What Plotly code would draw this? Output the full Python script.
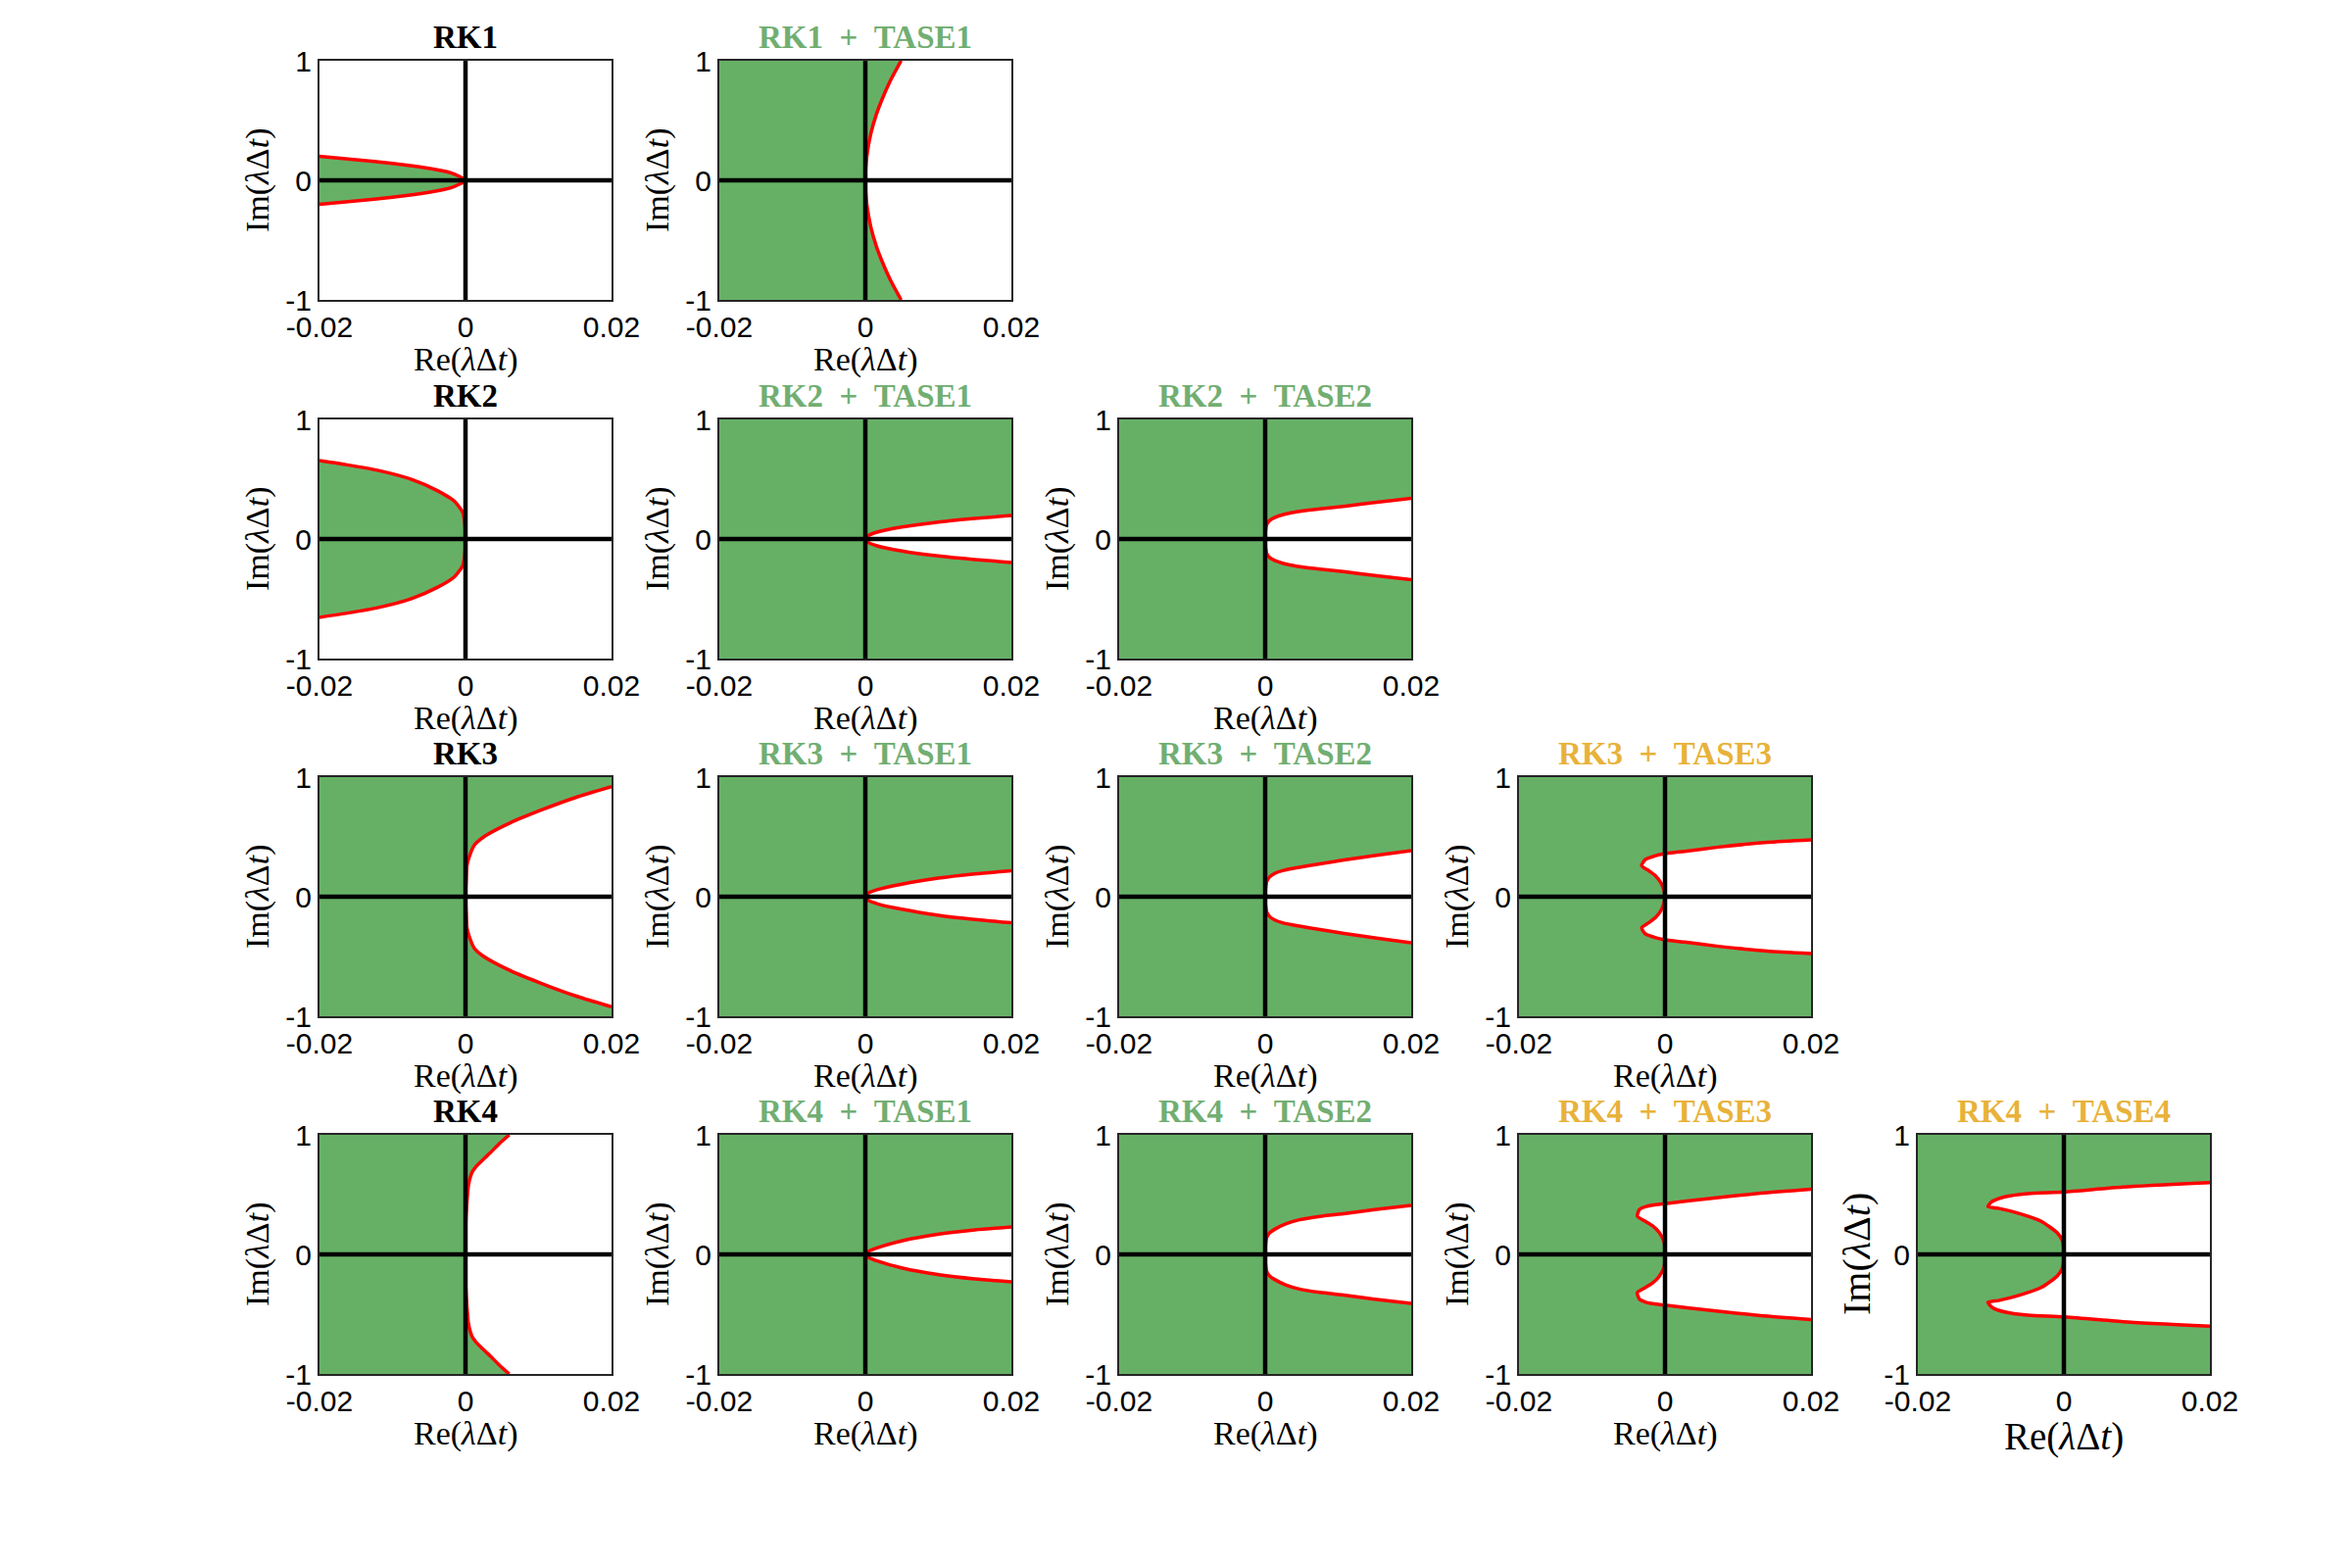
import plotly.graph_objects as go

# ─── Colours & fonts ──────────────────────────────────────────────────────────

GREEN = "#66B066"
RED = "#FF0000"
BLACK = "#000000"
FRAME = "#262626"
TITLE_GREEN = "#72AE72"
TITLE_GOLD = "#E8B23A"
SERIF = "Liberation Serif"
SANS = "Liberation Sans"

# ─── Axes ─────────────────────────────────────────────────────────────────────

X_MIN, X_MAX = -0.02, 0.02
Y_MIN, Y_MAX = -1, 1
X_TICKS = [-0.02, 0, 0.02]
X_TICKTEXT = ["-0.02", "0", "0.02"]
Y_TICKS = [-1, 0, 1]
Y_TICKTEXT = ["-1", "0", "1"]

# ─── Stability boundaries: upper branch, from the origin outwards ─────────────

RK1_RE = [0, -0.002, -0.005, -0.01, -0.015, -0.02]
RK1_IM = [0, 0.063, 0.10, 0.141, 0.173, 0.20]

RK1_T1_RE = [0, 0.00005, 0.0002, 0.00075, 0.0015, 0.0022, 0.0034, 0.0049]
RK1_T1_IM = [0, 0.1, 0.2, 0.39, 0.55, 0.664, 0.83, 1.0]

RK2_RE = [0, -0.0001, -0.0004, -0.0015, -0.0038, -0.0074, -0.0119, -0.0164, -0.02]
RK2_IM = [0, 0.13, 0.225, 0.315, 0.403, 0.499, 0.573, 0.622, 0.655]

RK2_T1_RE = [0, 0.0004, 0.0015, 0.005, 0.01, 0.015, 0.02]
RK2_T1_IM = [0, 0.028, 0.055, 0.10, 0.142, 0.172, 0.196]

RK2_T2_RE = [0, 0.00005, 0.0002, 0.0006, 0.0013, 0.0025, 0.0045, 0.0078, 0.011,
             0.015, 0.02]
RK2_T2_IM = [0, 0.07, 0.12, 0.155, 0.18, 0.205, 0.23, 0.255, 0.275,
             0.305, 0.34]

RK3_RE = [0, 0.0001, 0.0002, 0.0005, 0.0012, 0.0025, 0.0062, 0.0106, 0.0151, 0.02]
RK3_IM = [0, 0.15, 0.26, 0.33, 0.43, 0.50, 0.62, 0.73, 0.83, 0.92]

RK3_T1_RE = [0, 0.0004, 0.0017, 0.005, 0.01, 0.015, 0.02]
RK3_T1_IM = [0, 0.03, 0.06, 0.105, 0.155, 0.19, 0.218]

RK3_T2_RE = [0, 0.00005, 0.0002, 0.0006, 0.0013, 0.0025, 0.0045, 0.0075, 0.0108,
             0.015, 0.02]
RK3_T2_IM = [0, 0.07, 0.125, 0.165, 0.195, 0.22, 0.244, 0.275, 0.307,
             0.345, 0.385]

RK3_T3_RE = [0, -0.0002, -0.0006, -0.0013, -0.0022, -0.0032, -0.0027, -0.0015,
             -0.0002, 0.0027, 0.0073, 0.014, 0.02]
RK3_T3_IM = [0, 0.066, 0.12, 0.175, 0.216, 0.26, 0.311, 0.339,
             0.358, 0.38, 0.415, 0.454, 0.475]

RK4_RE = [0, 0, 0.0001, 0.0002, 0.0004, 0.0009, 0.0014, 0.002, 0.0027, 0.0034,
          0.0047, 0.006]
RK4_IM = [0, 0.2, 0.35, 0.44, 0.577, 0.686, 0.73, 0.768, 0.81, 0.85,
          0.93, 1.0]

RK4_T1_RE = [0, 0.0004, 0.0014, 0.0051, 0.0101, 0.015, 0.02]
RK4_T1_IM = [0, 0.025, 0.05, 0.115, 0.17, 0.205, 0.23]

RK4_T2_RE = [0, 0.00005, 0.0002, 0.0006, 0.0013, 0.0028, 0.0047, 0.0075, 0.011,
             0.015, 0.02]
RK4_T2_IM = [0, 0.08, 0.14, 0.18, 0.21, 0.255, 0.29, 0.318, 0.342,
             0.375, 0.41]

RK4_T3_RE = [0, -0.0001, -0.0008, -0.0017, -0.0028, -0.0038, -0.0035, -0.0026,
             -0.0012, 0, 0.0064, 0.0131, 0.02]
RK4_T3_IM = [0, 0.10, 0.184, 0.238, 0.28, 0.32, 0.375, 0.40,
             0.416, 0.424, 0.47, 0.512, 0.545]

RK4_T4_RE = [0, -0.0002, -0.0009, -0.0031, -0.0063, -0.009, -0.0104, -0.0099,
             -0.0081, -0.0049, 0, 0.0081, 0.02]
RK4_T4_IM = [0, 0.113, 0.18, 0.277, 0.345, 0.386, 0.40, 0.44,
             0.482, 0.509, 0.523, 0.563, 0.60]

# (row, col, title, title colour, re, im, stable region)
PANELS = [
    (0, 0, "RK1", BLACK, RK1_RE, RK1_IM, "inside"),
    (0, 1, "RK1 + TASE1", TITLE_GREEN, RK1_T1_RE, RK1_T1_IM, "outside"),
    (1, 0, "RK2", BLACK, RK2_RE, RK2_IM, "inside"),
    (1, 1, "RK2 + TASE1", TITLE_GREEN, RK2_T1_RE, RK2_T1_IM, "outside"),
    (1, 2, "RK2 + TASE2", TITLE_GREEN, RK2_T2_RE, RK2_T2_IM, "outside"),
    (2, 0, "RK3", BLACK, RK3_RE, RK3_IM, "outside"),
    (2, 1, "RK3 + TASE1", TITLE_GREEN, RK3_T1_RE, RK3_T1_IM, "outside"),
    (2, 2, "RK3 + TASE2", TITLE_GREEN, RK3_T2_RE, RK3_T2_IM, "outside"),
    (2, 3, "RK3 + TASE3", TITLE_GOLD, RK3_T3_RE, RK3_T3_IM, "outside"),
    (3, 0, "RK4", BLACK, RK4_RE, RK4_IM, "outside"),
    (3, 1, "RK4 + TASE1", TITLE_GREEN, RK4_T1_RE, RK4_T1_IM, "outside"),
    (3, 2, "RK4 + TASE2", TITLE_GREEN, RK4_T2_RE, RK4_T2_IM, "outside"),
    (3, 3, "RK4 + TASE3", TITLE_GOLD, RK4_T3_RE, RK4_T3_IM, "outside"),
    (3, 4, "RK4 + TASE4", TITLE_GOLD, RK4_T4_RE, RK4_T4_IM, "outside"),
]

# ─── Page geometry (pixels, inside the page's 8px body margin) ────────────────

W, H = 2400, 1600
COL_LEFT = [318, 726, 1134, 1542, 1949]
ROW_TOP = [54, 420, 785, 1150]
PW, PH = 298, 244


def boundary(re, im):
    """Lower branch (mirror of the upper one) in to the tip, then the upper branch out."""
    xs = list(reversed(re)) + list(re[1:])
    ys = [-v for v in reversed(im)] + list(im[1:])
    return xs, ys


fig = go.Figure()
shapes, annotations = [], []

for i, (row, col, title, tcolor, re, im, region) in enumerate(PANELS, start=1):
    xa, ya = f"x{i}", f"y{i}"
    left, top = COL_LEFT[col], ROW_TOP[row]
    last = (row, col) == (3, 4)

    xs, ys = boundary(re, im)
    if region == "inside":
        fx, fy = xs, ys
    else:
        fx = [X_MIN, X_MAX] + xs + [X_MAX, X_MIN]
        fy = [Y_MIN, Y_MIN] + ys + [Y_MAX, Y_MAX]

    fig.add_trace(go.Scatter(
        x=fx, y=fy, xaxis=xa, yaxis=ya, mode="lines", fill="toself",
        fillcolor=GREEN, line=dict(width=0), hoverinfo="skip",
    ))
    fig.add_trace(go.Scatter(
        x=xs, y=ys, xaxis=xa, yaxis=ya, mode="lines",
        line=dict(color=RED, width=3.5, shape="spline", smoothing=0.6),
    ))

    axis_common = dict(
        showgrid=False, zeroline=False, showline=True, mirror=True,
        linecolor=FRAME, linewidth=2, ticks="", automargin=False,
        tickfont=dict(family=SANS, size=30, color=BLACK), fixedrange=True,
    )
    fig.update_layout({
        f"xaxis{i}": dict(
            domain=[left / W, (left + PW) / W], range=[X_MIN, X_MAX],
            tickvals=X_TICKS, ticktext=X_TICKTEXT,
            anchor=ya, **axis_common,
        ),
        f"yaxis{i}": dict(
            domain=[1 - (top + PH) / H, 1 - top / H], range=[Y_MIN, Y_MAX],
            tickvals=Y_TICKS, ticktext=Y_TICKTEXT,
            anchor=xa, **axis_common,
        ),
    })

    # the real and imaginary axes, on top of the shading
    for x0, x1, y0, y1 in [(0, 0, Y_MIN, Y_MAX), (X_MIN, X_MAX, 0, 0)]:
        shapes.append(dict(
            type="line", xref=xa, yref=ya, x0=x0, x1=x1, y0=y0, y1=y1,
            line=dict(color=BLACK, width=4.5), layer="above",
        ))

    annotations += [
        dict(text="<b>" + title.replace(" + ", "\u2002+\u2002") + "</b>",
             x=(left + PW / 2) / W, y=1 - (top - 24) / H,
             font=dict(family=SERIF, size=33, color=tcolor)),
        dict(text="Re(<i>λ</i>Δ<i>t</i>)",
             x=(left + PW / 2) / W, y=1 - (top + PH + (64 if last else 61)) / H,
             font=dict(family=SERIF, size=39 if last else 34, color=BLACK)),
        dict(text="Im(<i>λ</i>Δ<i>t</i>)", textangle=-90,
             x=(left - 63) / W, y=1 - (top + PH / 2) / H,
             font=dict(family=SERIF, size=40 if last else 34, color=BLACK)),
    ]

for a in annotations:
    a.update(xref="paper", yref="paper", showarrow=False,
             xanchor="center", yanchor="middle")

fig.update_layout(
    width=W, height=H,
    paper_bgcolor="white", plot_bgcolor="white",
    margin=dict(l=0, r=0, t=0, b=0, autoexpand=False),
    showlegend=False,
    shapes=shapes,
    annotations=annotations,
)

fig.write_html("out.html")
